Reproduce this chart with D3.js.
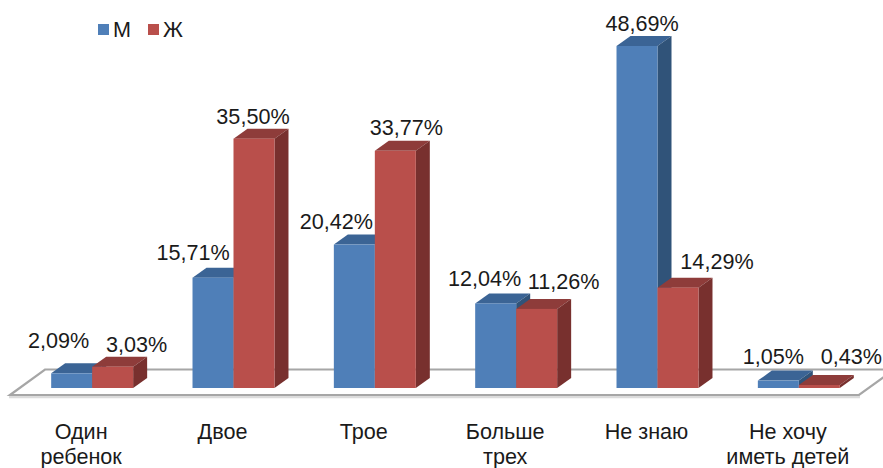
<!DOCTYPE html>
<html>
<head>
<meta charset="utf-8">
<script src="https://cdn.jsdelivr.net/npm/d3@7"></script>
<style>
  html, body { margin: 0; padding: 0; background: #fff; overflow: hidden; }
  svg { display: block; }
  text { font-family: "Liberation Sans", Arial, sans-serif; font-size: 21.6px; fill: #1a1a1a; }
</style>
</head>
<body>
<svg id="chart" width="883" height="468"></svg>
<script>
const categories = ['Один ребенок', 'Двое', 'Трое', 'Больше трех', 'Не знаю', 'Не хочу иметь детей'];
const seriesNames = ['М', 'Ж'];
const male = [2.09, 15.71, 20.42, 12.04, 48.69, 1.05];
const female = [3.03, 35.50, 33.77, 11.26, 14.29, 0.43];

// labels were moved by hand in the original, so nudge them off the bar centre
const maleNudge = [[-13, -9], [-20, -2], [-18, 0], [-11, -1], [5, 1], [-5, -1]];
const femaleNudge = [[24, 1], [-1, 1], [11, 0], [27, -4], [39, -3], [32, -5]];

const width = 883;
const height = 468;
const floorY = 388;
const depthX = 14;
const depthY = 10;

const colors = [
  { front: '#4f7fb8', top: '#3b6495', side: '#305379' },
  { front: '#b94f4b', top: '#8e3c3a', side: '#78302e' }
];

const svg = d3.select('#chart');

const x0 = d3.scaleBand().domain(categories).range([21.5, 869.5]).paddingInner(0.42).paddingOuter(0.21);
const x1 = d3.scaleBand().domain(seriesNames).range([0, x0.bandwidth()]);
const y = d3.scaleLinear().domain([0, 48.69]).range([floorY, 46]);

// floor, the soft light edge sits under the front line
svg.append('path')
  .attr('d', 'M9,397 H860')
  .attr('stroke', '#dcdcdc')
  .attr('stroke-width', 2.4);

svg.append('path')
  .attr('d', 'M10,395 L45,369.5 H894 L859,395 Z')
  .attr('fill', '#fff')
  .attr('stroke', '#a6a6a6')
  .attr('stroke-width', 2.2);

const rows = seriesNames.map((name, s) => ({
  name: name,
  values: s === 0 ? male : female,
  nudge: s === 0 ? maleNudge : femaleNudge,
  color: colors[s]
}));

const bars = [];
categories.forEach((c, i) => rows.forEach((r, s) => bars.push({ c: c, i: i, s: s, v: r.values[i], color: r.color })));

const bar = svg.selectAll('g.bar').data(bars).enter().append('g').attr('class', 'bar');

const left = d => x0(d.c) + x1(seriesNames[d.s]);

bar.append('path') // top
  .attr('fill', d => d.color.top)
  .attr('d', d => {
    const l = left(d), r = l + x1.bandwidth(), t = y(d.v);
    return `M${l},${t} L${l + depthX},${t - depthY} H${r + depthX} L${r},${t} Z`;
  });

bar.append('path') // side
  .attr('fill', d => d.color.side)
  .attr('d', d => {
    const r = left(d) + x1.bandwidth(), t = y(d.v);
    return `M${r},${t} L${r + depthX},${t - depthY} V${floorY - depthY} L${r},${floorY} Z`;
  });

bar.append('rect') // front
  .attr('x', left)
  .attr('y', d => y(d.v))
  .attr('width', x1.bandwidth())
  .attr('height', d => floorY - y(d.v))
  .attr('fill', d => d.color.front);

// value labels
rows.forEach(r => {
  svg.selectAll(null).data(categories).enter().append('text')
    .attr('text-anchor', 'middle')
    .attr('x', (c, i) => x0(c) + x1(r.name) + x1.bandwidth() / 2 + r.nudge[i][0])
    .attr('y', (c, i) => y(r.values[i]) - 16 + r.nudge[i][1])
    .text((c, i) => r.values[i].toFixed(2).replace('.', ',') + '%');
});

// category labels, two lines where the original wraps
const catLines = { 'Один ребенок': ['Один', 'ребенок'], 'Больше трех': ['Больше', 'трех'], 'Не хочу иметь детей': ['Не хочу', 'иметь детей'] };
const catText = svg.selectAll('text.cat').data(categories).enter().append('text')
  .attr('class', 'cat')
  .attr('text-anchor', 'middle')
  .attr('y', 439);
catText.selectAll('tspan').data(c => (catLines[c] || [c]).map(t => ({ c: c, t: t }))).enter().append('tspan')
  .attr('x', d => x0(d.c) + x0.bandwidth() / 2 - 11)
  .attr('dy', (d, i) => i ? 25 : 0)
  .text(d => d.t);

// legend
const legend = svg.selectAll('g.legend').data(rows).enter().append('g')
  .attr('class', 'legend')
  .attr('transform', (d, i) => `translate(${98 + i * 50},24)`);
legend.append('rect').attr('width', 11).attr('height', 11).attr('fill', d => d.color.front);
legend.append('text').attr('x', 15).attr('y', 13).text(d => d.name);
</script>
</body>
</html>
